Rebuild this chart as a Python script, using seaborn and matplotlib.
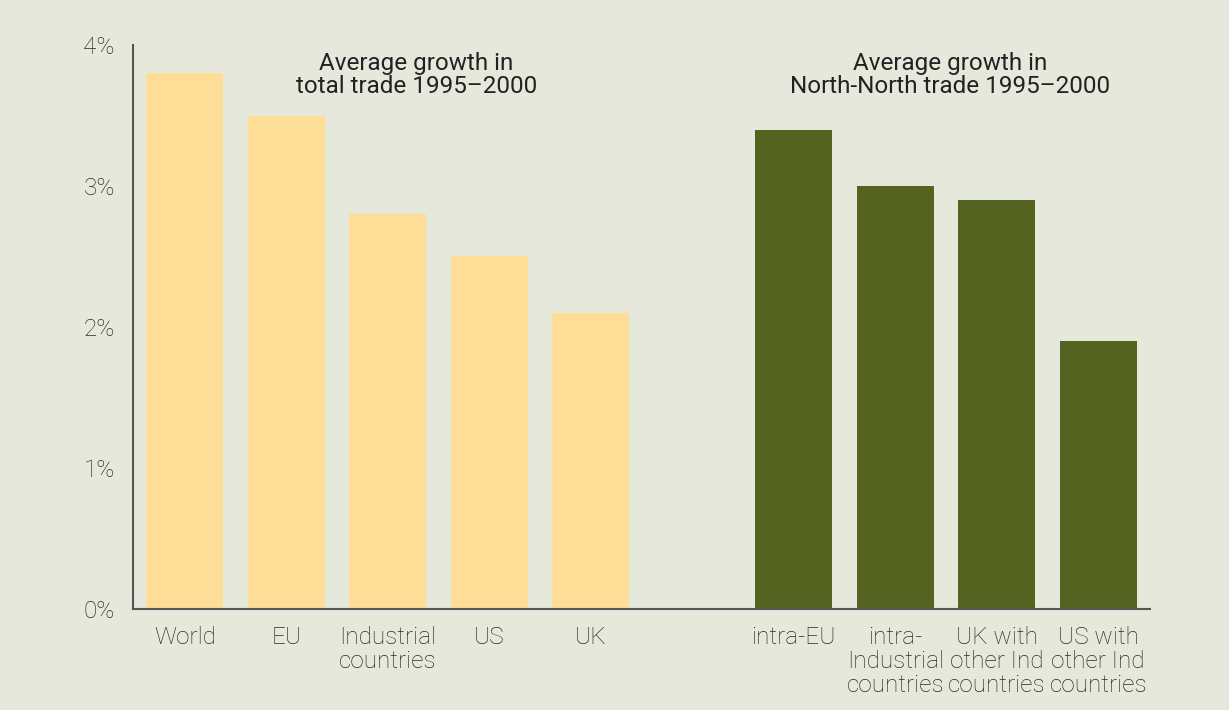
import pandas as pd
import matplotlib
matplotlib.use("Agg")
import matplotlib.pyplot as plt
import seaborn as sns

# dados
labels_total = ["World", "EU", "Industrial\ncountries", "US", "UK"]
growth_total = [3.8, 3.5, 2.8, 2.5, 2.1]
labels_nn = ["intra-EU", "intra-\nIndustrial\ncountries",
             "UK with\nother Ind\ncountries", "US with\nother Ind\ncountries"]
growth_nn = [3.4, 3.0, 2.9, 1.9]
yticks = [0, 1, 2, 3, 4]
ytick_labels = ["0%", "1%", "2%", "3%", "4%"]
title_total = "Average growth in\ntotal trade 1995\u20132000"
title_nn = "Average growth in\nNorth-North trade 1995\u20132000"

bg = "#e7e8dc"
cores = {"total": "#fedd97", "nn": "#556321"}

df = pd.DataFrame({
    "label": labels_total + labels_nn,
    "growth": growth_total + growth_nn,
    "group": ["total"] * len(labels_total) + ["nn"] * len(labels_nn),
})
# posição vazia entre os dois grupos
order = labels_total + [" "] + labels_nn

sns.set_style("white")
plt.rcParams["font.family"] = ["Roboto", "DejaVu Sans"]

fig = plt.figure(figsize=(12.29, 7.10), dpi=100, facecolor=bg)
ax = fig.add_axes([0.1082, 0.1423, 0.8275, 0.7943])
ax.set_facecolor(bg)

sns.barplot(data=df, x="label", y="growth", hue="group", order=order,
            palette=cores, dodge=False, width=0.76, saturation=1,
            linewidth=0, legend=False, ax=ax)

ax.set_xlim(-0.51, len(order) - 0.49)
ax.set_ylim(0, 4)
ax.set_yticks(yticks)
ax.set_yticklabels(ytick_labels, fontsize=17.5, color="#2a2a2a", fontweight="light")
ax.set_xticks(range(len(order)))
ax.set_xticklabels(order, fontsize=17.5, color="#2a2a2a", fontweight="light",
                   linespacing=1.07)
ax.tick_params(axis="x", length=0, pad=12)
ax.tick_params(axis="y", length=0, pad=13)
ax.set_xlabel("")
ax.set_ylabel("")

for s in ["top", "right"]:
    ax.spines[s].set_visible(False)
for s in ["left", "bottom"]:
    ax.spines[s].set_color("#555555")
    ax.spines[s].set_linewidth(1.5)

ax.text(2.28, 3.79, title_total, ha="center", va="center", fontsize=17.5,
        color="#222222", linespacing=1.0)
ax.text(7.54, 3.79, title_nn, ha="center", va="center", fontsize=17.5,
        color="#222222", linespacing=1.0)

fig.savefig("out.png", dpi=100, facecolor=bg)
